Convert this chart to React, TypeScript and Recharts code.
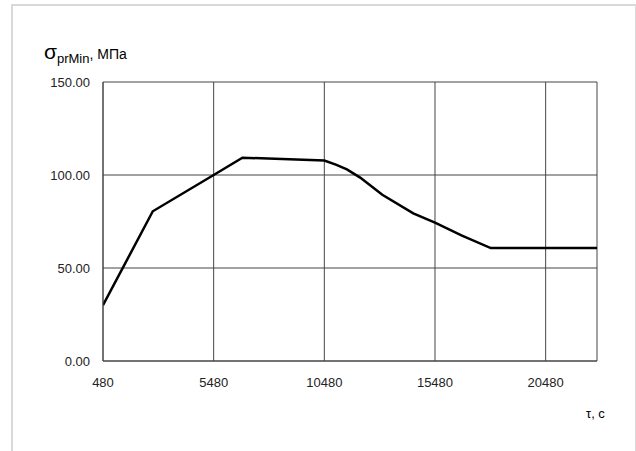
import React from 'react';
import { LineChart, Line, XAxis, YAxis, CartesianGrid, ReferenceLine } from 'recharts';

// time, s
const times = [480, 2730, 5480, 6780, 10480, 11000, 11500, 12100, 13100, 14500, 15480, 16700, 18000, 22800];
// sigma prMin, MPa
const stress = [30, 80.5, 100, 109.3, 107.8, 105.6, 103, 98.6, 89.4, 79.4, 74.4, 67.4, 60.7, 60.7];

const xTicks = [480, 5480, 10480, 15480, 20480];
const yTicks = [0, 50, 100, 150];
const X_MAX = 22800;

const data = times.map((t, i) => ({ t, value: stress[i] }));

const font = "'Liberation Sans', Arial, sans-serif";
const gridColor = '#454545';

const App: React.FC = () => {
  return (
    <div style={{ position: 'absolute', left: 0, top: 0, width: 636, height: 451, background: '#fff', overflow: 'hidden', fontFamily: font }}>
      <div
        style={{
          position: 'absolute',
          left: 11,
          top: 4,
          width: 622,
          height: 470,
          borderTop: '2px solid #d9d9d9',
          borderLeft: '2px solid #d9d9d9',
          borderRight: '2px solid #d9d9d9',
        }}
      />
      <div style={{ position: 'absolute', left: 44, top: 40, fontSize: 14, color: '#000', whiteSpace: 'nowrap' }}>
        <span style={{ fontSize: 21 }}>σ</span>
        <sub style={{ fontSize: 13 }}>prMin</sub>
        <span>, МПа</span>
      </div>
      <div style={{ position: 'absolute', left: 586, top: 406, fontSize: 13, color: '#000' }}>τ, с</div>
      <div style={{ position: 'absolute', left: 0, top: 0 }}>
        <LineChart width={636} height={451} data={data} margin={{ top: 82, right: 39, bottom: 60, left: 0 }}>
          <CartesianGrid stroke={gridColor} strokeWidth={1} horizontalValues={yTicks} verticalValues={xTicks} />
          <XAxis
            dataKey="t"
            type="number"
            domain={[480, X_MAX]}
            ticks={xTicks}
            height={30}
            allowDataOverflow
            tickLine={false}
            tickMargin={11}
            axisLine={{ stroke: gridColor }}
            tick={{ fill: '#222', fontSize: 13, fontFamily: font }}
          />
          <YAxis
            type="number"
            domain={[0, 150]}
            ticks={yTicks}
            width={103}
            tickLine={false}
            tickMargin={7}
            axisLine={{ stroke: gridColor }}
            tickFormatter={(v: number) => v.toFixed(2)}
            tick={{ fill: '#222', fontSize: 13, fontFamily: font }}
          />
          <ReferenceLine x={X_MAX} stroke={gridColor} />
          <Line
            type="linear"
            dataKey="value"
            stroke="#000"
            strokeWidth={2.5}
            dot={false}
            isAnimationActive={false}
          />
        </LineChart>
      </div>
    </div>
  );
};

export default App;
